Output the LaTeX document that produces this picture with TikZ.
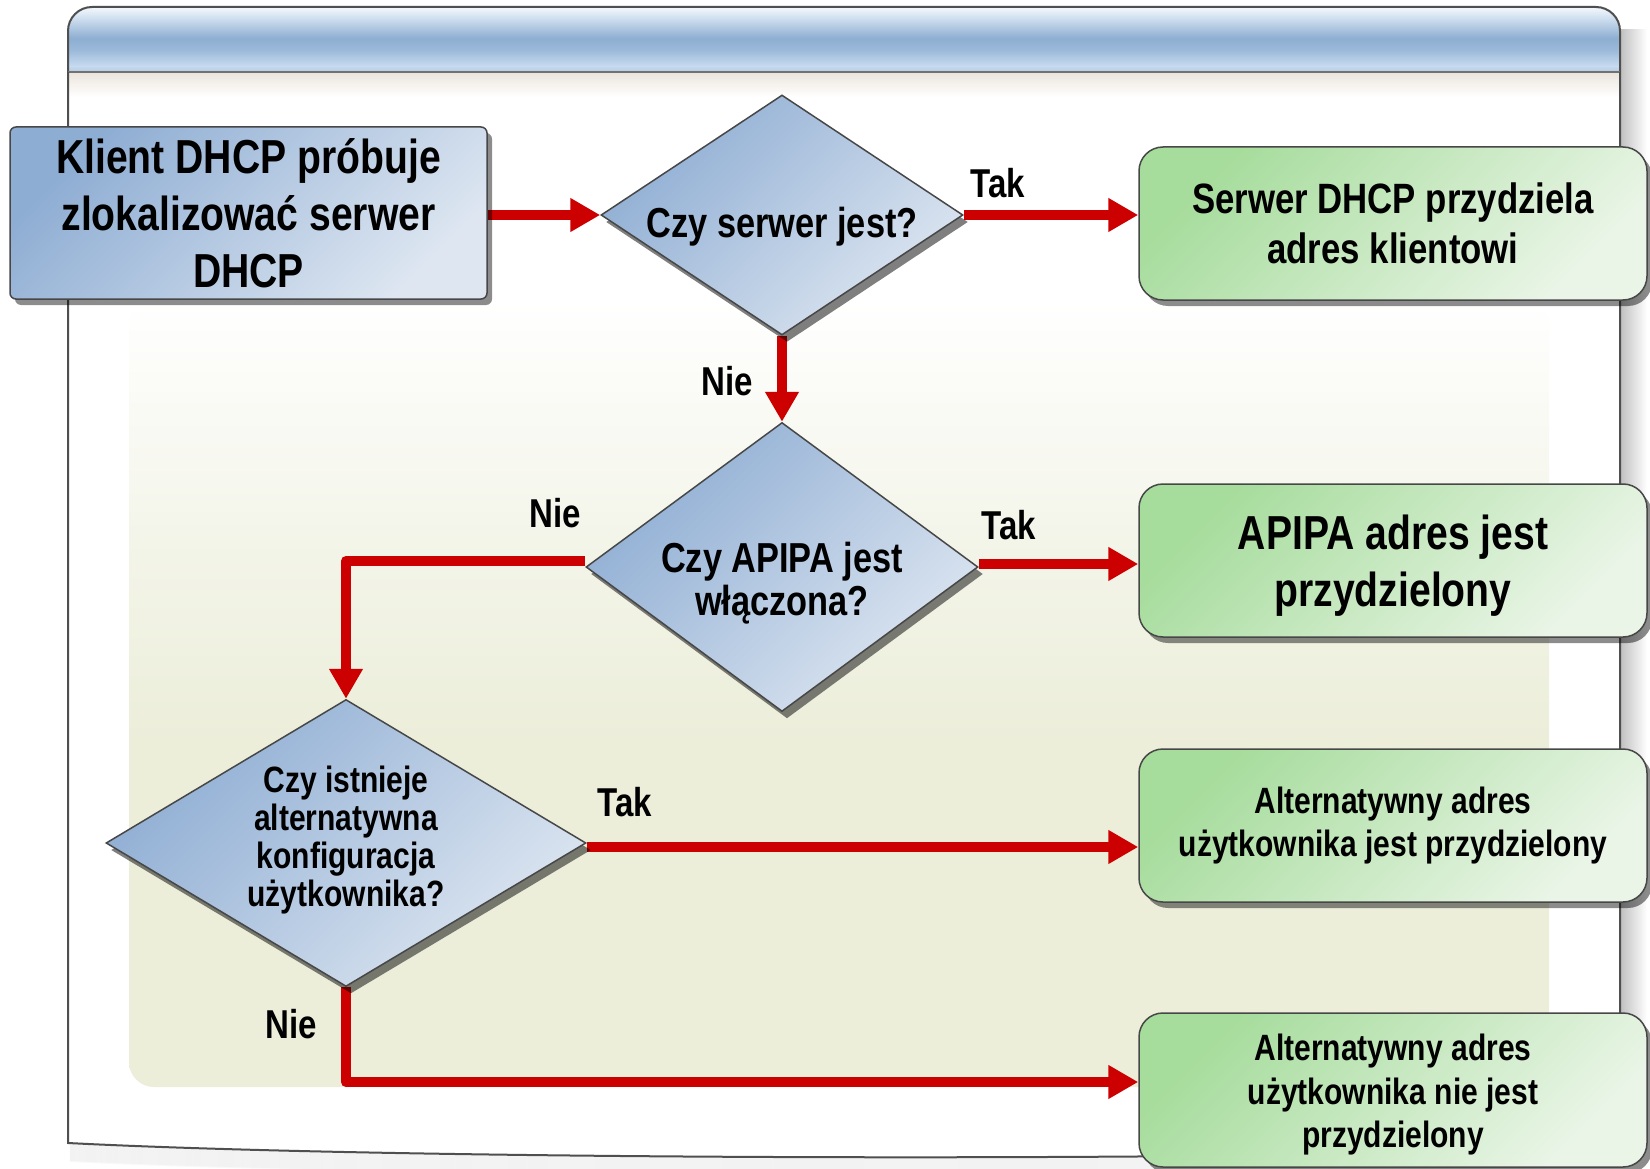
\documentclass[tikz,border=0pt]{standalone}
\usepackage{fontspec}
\setmainfont{Liberation Sans}[FakeStretch=0.82]
\usetikzlibrary{shapes.geometric,arrows.meta,shadows,calc}

\definecolor{flowred}{HTML}{CC0000}
\definecolor{edgegray}{HTML}{474747}
\definecolor{frameGray}{HTML}{4F4F4F}
\definecolor{blueA}{HTML}{8EADD3}
\definecolor{blueB}{HTML}{DDE6F1}
\definecolor{greenA}{HTML}{A6DC9C}
\definecolor{greenB}{HTML}{EAF5E7}
\definecolor{paneBeige}{HTML}{ECEEDA}
\definecolor{paneLight}{HTML}{F5F6EC}
\definecolor{bnTop}{HTML}{F4F8FC}
\definecolor{bnHigh}{HTML}{D6E4F2}
\definecolor{bnMid}{HTML}{8EAED1}
\definecolor{bnMidB}{HTML}{9BB9D9}
\definecolor{bnLow}{HTML}{C6DAF0}
\definecolor{bnBot}{HTML}{B5CAE0}
\definecolor{bnShadow}{HTML}{ECE5DD}

% title strip of the slide frame
\pgfdeclareverticalshading{bannershade}{100bp}{%
  color(0bp)=(bnBot); color(25bp)=(bnBot); color(29.6bp)=(bnLow);
  color(42bp)=(bnMidB); color(51bp)=(bnMid); color(68bp)=(bnHigh);
  color(75bp)=(bnTop); color(100bp)=(bnTop)}
% inner pane: beige at the bottom, fading to white at the top
\pgfdeclareverticalshading{paneshade}{100bp}{%
  color(0bp)=(paneBeige); color(47bp)=(paneBeige); color(62bp)=(paneLight);
  color(75bp)=(white); color(100bp)=(white)}

\pgfdeclarelayer{paper}
\pgfdeclarelayer{wires}
\pgfsetlayers{paper,wires,main}

\begin{document}
\begin{tikzpicture}[x=1pt,y=-1pt,
  txt/.style={align=center,text=black},
  bigtext/.style={font=\bfseries\fontsize{47.7}{57}\selectfont},
  boxtext/.style={font=\bfseries\fontsize{42.4}{50}\selectfont},
  midtext/.style={font=\bfseries\fontsize{41.9}{43.5}\selectfont},
  smalltext/.style={font=\bfseries\fontsize{36.6}{38.3}\selectfont},
  smallbox/.style={font=\bfseries\fontsize{36.6}{43.5}\selectfont},
  answer/.style={font=\bfseries\fontsize{40.3}{44}\selectfont},
  bluefill/.style={top color=blueA,bottom color=blueB,shading angle=45},
  greenfill/.style={top color=greenA,bottom color=greenB,shading angle=45},
  boxshadow/.style={general shadow={fill=black,opacity=.45,shadow xshift=5pt,shadow yshift=-6pt}},
  startbox/.style={rectangle,rounded corners=6pt,draw=edgegray,line width=1.5pt,
    bluefill,boxshadow,minimum width=477pt,minimum height=172pt,inner sep=0pt,txt},
  endbox/.style={rectangle,rounded corners=24pt,draw=edgegray,line width=1.5pt,
    greenfill,boxshadow,minimum width=508pt,minimum height=153pt,inner sep=0pt,txt},
  decision/.style={diamond,draw=edgegray,line width=1.5pt,bluefill,inner sep=0pt,
    general shadow={fill=black,opacity=.5,shadow xshift=5pt,shadow yshift=-7pt}},
  flow/.style={draw=flowred,line width=10pt,line join=round,
    -{Triangle[length=30pt,width=32pt]}}
]
\useasboundingbox (0,0) rectangle (1650,1169);

% ---------- slide frame ----------
\begin{pgfonlayer}{paper}
  \fill[white] (0,0) rectangle (1650,1169);
  % soft shadow right of and below the sheet
  \shade[left color=black!25,right color=white] (1620,30) rectangle (1647,1150);
  \foreach \k in {1,...,18}
    \draw[black,opacity=0.025,line width=2pt]
      (70,1143+\k) .. controls (400,1160+\k) and (1200,1162+\k) .. (1620,1148+\k);
  % the sheet
  \fill[white] (68,40) -- (68,1143) .. controls (400,1160) and (1200,1162) .. (1620,1148)
    -- (1620,40) -- cycle;
  % beige pane
  \shade[shading=paneshade,rounded corners=25pt] (129,300) rectangle (1549,1087);
  % title strip and its shadow
  \shade[top color=bnShadow,bottom color=white] (69,73) rectangle (1619,97);
  \shade[shading=bannershade] (68,72) [rounded corners=24pt]-- (68,7) -- (1620,7)
    [sharp corners]-- (1620,72) -- cycle;
  \draw[frameGray,line width=2pt,line join=round] (68,72) [rounded corners=24pt]-- (68,7)
    -- (1620,7) [sharp corners]-- (1620,72);
  \draw[frameGray!80,line width=1.5pt] (68,72) -- (1620,72);
  \draw[frameGray,line width=2pt] (68,72) -- (68,1143)
    .. controls (400,1160) and (1200,1162) .. (1620,1148) -- (1620,72);
\end{pgfonlayer}

% ---------- shapes ----------
\node[startbox,bigtext] (start) at (248.5,213) {Klient DHCP próbuje\\zlokalizować serwer\\DHCP};

\node[decision,minimum width=362pt,minimum height=240pt] (d1) at (782,215) {};
\node[txt,midtext] (d1t) at (782,227) {Czy serwer jest?};

\node[decision,minimum width=392pt,minimum height=289pt] (d2) at (782,567) {};
\node[txt,midtext] (d2t) at (782,583) {Czy APIPA jest\\włączona?};

\node[decision,minimum width=480pt,minimum height=287pt] (d3) at (346,843) {};
\node[txt,smalltext] (d3t) at (346,840) {Czy istnieje\\alternatywna\\konfiguracja\\użytkownika?};

\node[endbox,boxtext] (b1) at (1393,223.5) {Serwer DHCP przydziela\\adres klientowi};
\node[endbox] (b2) at (1393,560.5) {};
\node[txt,bigtext] (b2t) at (1393,566) {APIPA adres jest\\przydzielony};
\node[endbox,smallbox] (b3) at (1393,825.5) {Alternatywny adres\\użytkownika jest przydzielony};
\node[endbox,minimum height=154pt] (b4) at (1393,1090) {};
\node[txt,smallbox] (b4t) at (1393,1095) {Alternatywny adres\\użytkownika nie jest\\przydzielony};

% ---------- answers ----------
\node[answer] (t1) at (998,183) {Tak};
\node[answer] (n1) at (727,381) {Nie};
\node[answer] (n2) at (555,513) {Nie};
\node[answer] (t2) at (1009,525) {Tak};
\node[answer] (t3) at (625,802) {Tak};
\node[answer] (n3) at (291,1024) {Nie};

% ---------- connectors ----------
\coordinate (d2out) at ([yshift=6pt]d2.west);
\coordinate (d2yes) at ([yshift=3pt]d2.east);
\coordinate (d3yes) at ([yshift=-4pt]d3.east);
\coordinate (b4in) at ([yshift=8pt]b4.west);
\begin{pgfonlayer}{wires}
  \draw[flow] (start.east |- d1.west) -- (d1.west);
  \draw[flow] (d1.east) -- (d1.east -| b1.west);
  \draw[flow] (d1.south) -- (d2.north);
  \draw[flow] (d2yes) -- (d2yes -| b2.west);
  \draw[flow] (d2out) -| (d3.north);
  \draw[flow] (d3yes) -- (d3yes -| b3.west);
  \draw[flow] (d3.south) |- (b4in);
\end{pgfonlayer}
\end{tikzpicture}
\end{document}
